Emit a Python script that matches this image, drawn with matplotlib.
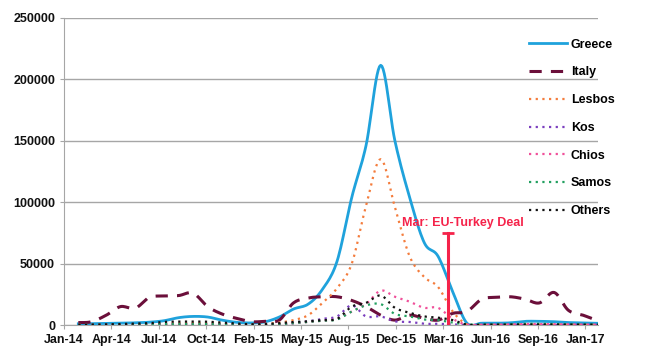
import numpy as np
import pandas as pd
import matplotlib
matplotlib.use("Agg")
import matplotlib.pyplot as plt
import matplotlib.dates as mdates

# monthly arrivals, Jan-14 .. Jan-17
months = pd.date_range("2014-01-31", periods=37, freq="ME")

greece = [1000, 1100, 1300, 1500, 1800, 2300, 3500, 6000, 7000, 6500, 4000, 2200,
          1700, 2500, 6500, 13000, 17000, 29000, 52000, 104000, 146000, 211500, 150000, 104000,
          67000, 56000, 27000, 1500, 1500, 1500, 1800, 3000, 3000, 2700, 2000, 1700, 1400]
italy = [2000, 2700, 8000, 15000, 13600, 22500, 23600, 24000, 26000, 15000, 9000, 5400,
         2700, 3000, 4000, 18000, 22000, 23000, 23000, 20000, 15000, 8000, 4000, 8000,
         5500, 4000, 9500, 11000, 21000, 22500, 23000, 21000, 18000, 26500, 12000, 8000, 4000]
lesbos = [200, 200, 300, 300, 400, 500, 800, 1500, 1500, 1500, 1000, 600,
          700, 900, 2000, 4000, 8000, 18000, 30000, 50000, 97000, 135000, 96000, 56000,
          39000, 31000, 11000, 500, 100, 100, 200, 300, 300, 300, 200, 200, 100]
kos = [100, 100, 100, 150, 200, 300, 400, 600, 600, 500, 300, 200,
       100, 200, 500, 1500, 3000, 5000, 7000, 16000, 7000, 7000, 3000, 2500,
       1000, 1000, 500, 50, 50, 50, 50, 100, 100, 100, 50, 50, 50]
chios = [200, 200, 300, 300, 400, 500, 700, 800, 800, 700, 500, 300,
         200, 300, 700, 1500, 2500, 3500, 5000, 11000, 17000, 28000, 23000, 19000,
         14000, 14000, 5000, 300, 300, 300, 500, 800, 800, 600, 400, 300, 300]
samos = [200, 200, 300, 300, 400, 500, 700, 900, 900, 800, 500, 300,
         200, 300, 700, 1500, 2500, 3500, 4500, 11000, 16000, 17000, 9000, 7000,
         4500, 4000, 2000, 500, 500, 500, 700, 1000, 1000, 800, 600, 500, 400]
others = [300, 300, 500, 800, 1200, 1500, 2500, 2800, 2800, 2700, 2000, 1200,
          600, 800, 1500, 2500, 3000, 4000, 5000, 15000, 18000, 24000, 14000, 10000,
          7000, 6000, 4000, 300, 300, 300, 300, 400, 400, 300, 300, 300, 300]

deal_date = pd.Timestamp("2016-03-20")
deal_height = 75000
deal_label = "Mar: EU-Turkey Deal"

RED = "#F5234A"


def smooth(x, y, n=12):
    # Catmull-Rom curve through the points, like Excel's smoothed line
    x = np.asarray(x, float)
    y = np.asarray(y, float)
    px = np.concatenate([[2 * x[0] - x[1]], x, [2 * x[-1] - x[-2]]])
    py = np.concatenate([[y[0]], y, [y[-1]]])
    xs, ys = [], []
    t = np.linspace(0, 1, n, endpoint=False)
    for i in range(1, len(px) - 2):
        for p, out in ((px, xs), (py, ys)):
            p0, p1, p2, p3 = p[i - 1], p[i], p[i + 1], p[i + 2]
            out.append(0.5 * (2 * p1 + (-p0 + p2) * t
                              + (2 * p0 - 5 * p1 + 4 * p2 - p3) * t ** 2
                              + (-p0 + 3 * p1 - 3 * p2 + p3) * t ** 3))
    xs.append([x[-1]])
    ys.append([y[-1]])
    return np.concatenate(xs), np.concatenate(ys)


plt.rcParams["font.family"] = ["Liberation Sans", "DejaVu Sans"]
plt.rcParams["font.weight"] = "bold"

fig = plt.figure(figsize=(6.54, 3.57), dpi=100)
ax = fig.add_axes([0.098, 0.0896, 0.816, 0.86])

xnum = mdates.date2num(months)
series = [
    ("Greece", greece, dict(color="#1FA2DC", lw=2.0, ls="-")),
    ("Italy", italy, dict(color="#6B0F3A", lw=2.2, ls=(0, (4, 3)))),
    ("Lesbos", lesbos, dict(color="#F47C3C", lw=1.6, ls=(0, (1, 2)))),
    ("Kos", kos, dict(color="#7B3FBF", lw=1.6, ls=(0, (1, 2)))),
    ("Chios", chios, dict(color="#F0509A", lw=1.6, ls=(0, (1, 2)))),
    ("Samos", samos, dict(color="#22A060", lw=1.6, ls=(0, (1, 2)))),
    ("Others", others, dict(color="#111111", lw=1.6, ls=(0, (1, 2)))),
]
for name, vals, st in series:
    sx, sy = smooth(xnum, vals)
    ax.plot(sx, sy, label=name, zorder=3, **st)

# EU-Turkey deal marker
dnum = mdates.date2num(deal_date)
ax.plot([dnum, dnum], [0, deal_height], color=RED, lw=2.2, zorder=4)
ax.plot([dnum], [deal_height], marker="_", ms=9, mew=2, color=RED, zorder=4)
ax.annotate(deal_label, xy=(dnum, deal_height), xytext=(11, 7),
            textcoords="offset points", ha="center", va="center",
            color=RED, fontsize=9, fontweight="bold")

ax.set_ylim(0, 250000)
ax.set_yticks(np.arange(0, 250001, 50000))
ax.set_xlim(mdates.date2num(pd.Timestamp("2014-01-01")), xnum[-1])
ticks = [pd.Timestamp("2014-01-01") + pd.Timedelta(days=100 * k) for k in range(12)]
ax.set_xticks(mdates.date2num(ticks))
ax.set_xticklabels([t.strftime("%b-%y") for t in ticks])

ax.grid(axis="y", color="#A6A6A6", lw=1)
ax.set_axisbelow(True)
for s in ("top", "right"):
    ax.spines[s].set_visible(False)
for s in ("left", "bottom"):
    ax.spines[s].set_color("#A6A6A6")
ax.tick_params(axis="both", colors="#A6A6A6", labelcolor="#111111",
               labelsize=9, length=3)

ax.legend(loc="upper left", bbox_to_anchor=(0.809, 0.8916), bbox_transform=fig.transFigure,
          frameon=False, fontsize=9, handlelength=3.0, handletextpad=0.35,
          labelspacing=1.26, borderpad=0, borderaxespad=0)

fig.savefig("out.png", dpi=100)
